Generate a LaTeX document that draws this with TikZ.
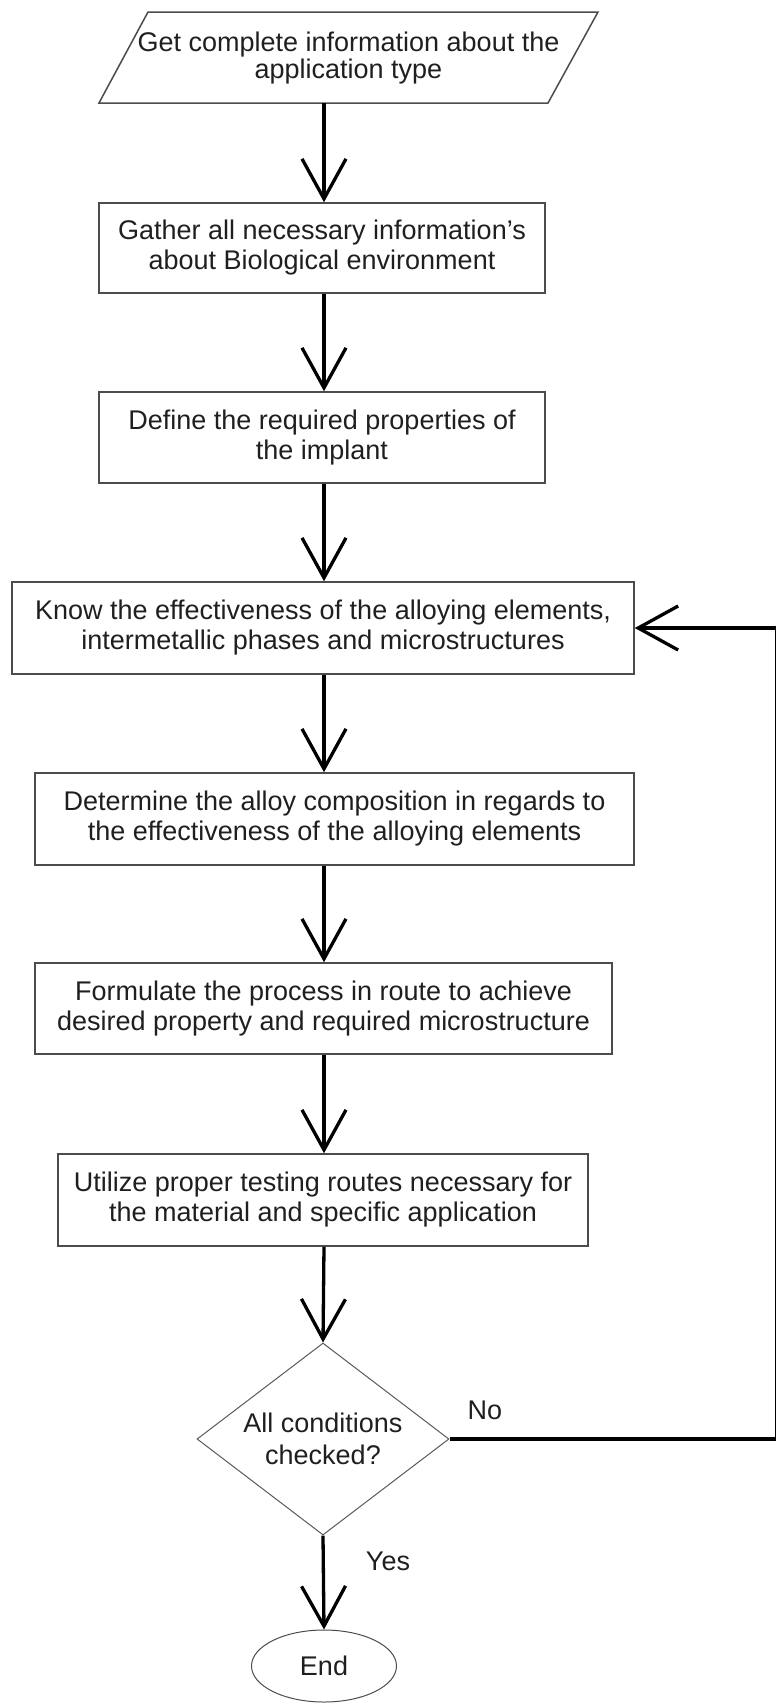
\documentclass[tikz,border=0pt]{standalone}
\usetikzlibrary{arrows.meta,shapes.geometric}
\usepackage{fontspec}
\setmainfont{Liberation Sans}

\begin{document}
\begin{tikzpicture}[x=0.5pt,y=-0.5pt,line width=0.75pt,
  >={Straight Barb[length=20pt,width=22pt]},
  txt/.style={text=black!88,font=\fontsize{13.5}{15}\selectfont,align=center,inner sep=0pt},
  box/.style={txt,draw=black!70,rectangle},
  flow/.style={->,line width=1.65pt,line cap=butt,line join=miter}]
\useasboundingbox (0,0) rectangle (776,1704);
% main column of the chart
\coordinate (spine) at (324,0);
\coordinate (rail) at (776.9,0);
% input parallelogram
\node[txt,font=\fontsize{13.5}{13.5}\selectfont] (info) at (348.5,58)
  {Get complete information about the\\application type};
\draw[black!70] (148,12) -- (598,12) -- (548,103) -- (99,103) -- cycle;
\coordinate (infoout) at (324,103);
% process steps
\node[box,minimum width=223pt,minimum height=45pt] (gather) at (322,248)
  {Gather all necessary information’s\\about Biological environment};
\node[box,minimum width=223pt,minimum height=45.5pt] (define) at (322,437.5)
  {Define the required properties of\\the implant};
\node[box,minimum width=311pt,minimum height=46pt] (know) at (323,628)
  {Know the effectiveness of the alloying elements,\\intermetallic phases and microstructures};
\node[box,minimum width=299.5pt,minimum height=46pt] (alloy) at (334.5,819)
  {Determine the alloy composition in regards to\\the effectiveness of the alloying elements};
\node[box,minimum width=288.5pt,minimum height=45.5pt] (route) at (323.5,1008.5)
  {Formulate the process in route to achieve\\desired property and required microstructure};
\node[box,minimum width=265pt,minimum height=46pt] (test) at (323,1200)
  {Utilize proper testing routes necessary for\\the material and specific application};
% decision and end
\node[txt,draw=black!65,line width=0.5pt,diamond,shape aspect=1.3,
  minimum width=126pt,minimum height=96pt,
  font=\fontsize{13.5}{16}\selectfont] (check) at (323,1439)
  {All conditions\\checked?};
\node[txt,draw=black!70,line width=0.5pt,ellipse,
  minimum width=72.5pt,minimum height=36pt] (finish) at (324,1666) {End};
\node[txt] (lblno) at (485,1410) {No};
\node[txt] (lblyes) at (388,1561) {Yes};
% connectors
\draw[flow] (infoout) -- (gather.north -| spine);
\draw[flow] (gather.south -| spine) -- (define.north -| spine);
\draw[flow] (define.south -| spine) -- (know.north -| spine);
\draw[flow] (know.south -| spine) -- (alloy.north -| spine);
\draw[flow] (alloy.south -| spine) -- (route.north -| spine);
\draw[flow] (route.south -| spine) -- (test.north -| spine);
\draw[flow] (test.south -| spine) -- (check.north);
\draw[flow] (check.south) -- (finish.north);
% back to the knowledge step
\draw[flow] (check.east) -- (check.east -| rail) -- (rail |- know.east) -- (know.east);
\end{tikzpicture}
\end{document}
